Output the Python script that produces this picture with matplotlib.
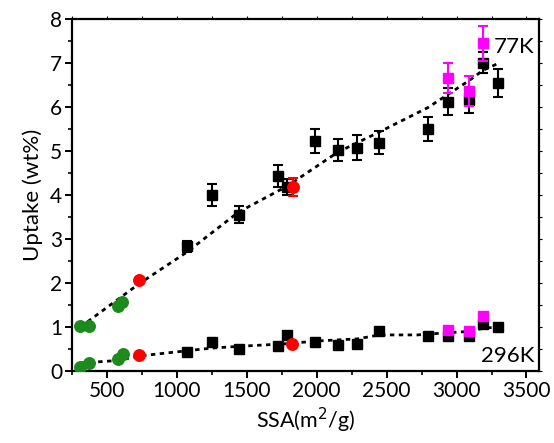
import matplotlib
matplotlib.use("Agg")
import matplotlib.pyplot as plt
from matplotlib.ticker import MultipleLocator

plt.rcParams['font.family'] = ['Lato', 'DejaVu Sans']

# ---- 77K data ----
k77_black_x = [1071, 1248, 1441, 1721, 1789, 1991, 2150, 2291, 2448, 2793, 2936, 3091, 3189, 3293]
k77_black_y = [2.83, 3.99, 3.55, 4.43, 4.18, 5.22, 5.01, 5.07, 5.19, 5.50, 6.12, 6.15, 7.00, 6.54]
k77_black_err = [0.13, 0.25, 0.19, 0.24, 0.19, 0.27, 0.25, 0.28, 0.27, 0.28, 0.30, 0.30, 0.24, 0.32]
k77_mag_x = [2936, 3091, 3189]
k77_mag_y = [6.66, 6.36, 7.44]
k77_mag_err = [0.34, 0.34, 0.40]
k77_red_x = [729, 1829]
k77_red_y = [2.07, 4.18]
k77_red_err = [0.0, 0.20]
k77_green_x = [310, 371, 579, 607]
k77_green_y = [1.02, 1.02, 1.47, 1.56]
k77_line_x = [310, 729, 1071, 1441, 1789, 2150, 2448, 2793, 3091, 3189, 3293]
k77_line_y = [1.00, 1.98, 2.70, 3.61, 4.20, 4.97, 5.43, 5.98, 6.60, 6.83, 6.98]

# ---- 296K data ----
k296_black_x = [1071, 1248, 1441, 1721, 1789, 1991, 2150, 2291, 2448, 2793, 2936, 3091, 3189, 3293]
k296_black_y = [0.43, 0.66, 0.51, 0.56, 0.81, 0.66, 0.58, 0.62, 0.90, 0.80, 0.79, 0.79, 1.06, 1.00]
k296_mag_x = [2936, 3091, 3189]
k296_mag_y = [0.94, 0.90, 1.24]
k296_red_x = [729, 1821]
k296_red_y = [0.37, 0.62]
k296_green_x = [310, 371, 579, 614]
k296_green_y = [0.10, 0.19, 0.28, 0.39]
k296_line_x = [310, 579, 729, 1071, 1248, 1441, 1789, 1991, 2291, 2448, 2721, 2936, 3091, 3189, 3293]
k296_line_y = [0.18, 0.24, 0.34, 0.46, 0.52, 0.56, 0.62, 0.68, 0.73, 0.82, 0.82, 0.87, 0.90, 0.97, 1.00]

GREEN = '#1c8a1c'
RED = '#ff0000'
MAG = '#ff00ff'

fig = plt.figure(figsize=(5.54, 4.43), dpi=100)
ax = fig.add_axes([0.130, 0.1625, 0.843, 0.795])

dot = (0, (1.6, 1.6))
ax.plot(k77_line_x, k77_line_y, color='black', lw=2.0, linestyle=dot, zorder=2)
ax.plot(k296_line_x, k296_line_y, color='black', lw=2.0, linestyle=dot, zorder=2)

ms_sq = 7.8
ms_c = 8.3
# 77K
ax.errorbar(k77_black_x, k77_black_y, yerr=k77_black_err, fmt='s', color='black',
            ms=ms_sq, capsize=3.5, elinewidth=1.5, capthick=1.5, zorder=3)
ax.errorbar(k77_mag_x, k77_mag_y, yerr=k77_mag_err, fmt='s', color=MAG,
            ms=ms_sq, capsize=3.5, elinewidth=1.5, capthick=1.5, zorder=4)
ax.errorbar(k77_red_x, k77_red_y, yerr=k77_red_err, fmt='o', color=RED,
            ms=ms_c, capsize=3.5, elinewidth=1.5, capthick=1.5, zorder=3)
ax.plot(k77_green_x, k77_green_y, 'o', color=GREEN, ms=ms_c, zorder=3)
# 296K
ax.plot(k296_black_x, k296_black_y, 's', color='black', ms=ms_sq, zorder=3)
ax.plot(k296_mag_x, k296_mag_y, 's', color=MAG, ms=ms_sq, zorder=3)
ax.plot(k296_red_x, k296_red_y, 'o', color=RED, ms=ms_c, zorder=3)
ax.plot(k296_green_x, k296_green_y, 'o', color=GREEN, ms=ms_c, zorder=3)

ax.set_xlim(250, 3590)
ax.set_ylim(0, 8)
ax.xaxis.set_major_locator(MultipleLocator(500))
ax.xaxis.set_minor_locator(MultipleLocator(250))
ax.yaxis.set_major_locator(MultipleLocator(1))
ax.yaxis.set_minor_locator(MultipleLocator(0.5))
ax.set_xticks([500, 1000, 1500, 2000, 2500, 3000, 3500])

for s in ax.spines.values():
    s.set_linewidth(1.6)

ax.tick_params(axis='both', which='major', direction='out', length=5, width=1.4,
               labelsize=15, pad=2)
ax.tick_params(axis='both', which='minor', direction='out', length=3, width=1.2)
ax.tick_params(axis='both', which='both', top=True, right=True)
# faint short ticks on top and right (as in reference)
for t in ax.xaxis.get_major_ticks() + ax.xaxis.get_minor_ticks():
    t.tick2line.set_markersize(2)
    t.tick2line.set_markeredgewidth(0.8)
    t.tick2line.set_color('#888888')
for t in ax.yaxis.get_major_ticks() + ax.yaxis.get_minor_ticks():
    t.tick2line.set_markersize(2)
    t.tick2line.set_markeredgewidth(0.8)
    t.tick2line.set_color('#888888')

ax.set_xlabel('SSA(m$^2$/g)', fontsize=15.5, labelpad=4)
ax.set_ylabel('Uptake (wt%)', fontsize=16, labelpad=5)

ax.text(3560, 7.35, '77K', fontsize=16, ha='right', va='center')
ax.text(3560, 0.33, '296K', fontsize=16, ha='right', va='center')

fig.savefig('out.png', dpi=100)
